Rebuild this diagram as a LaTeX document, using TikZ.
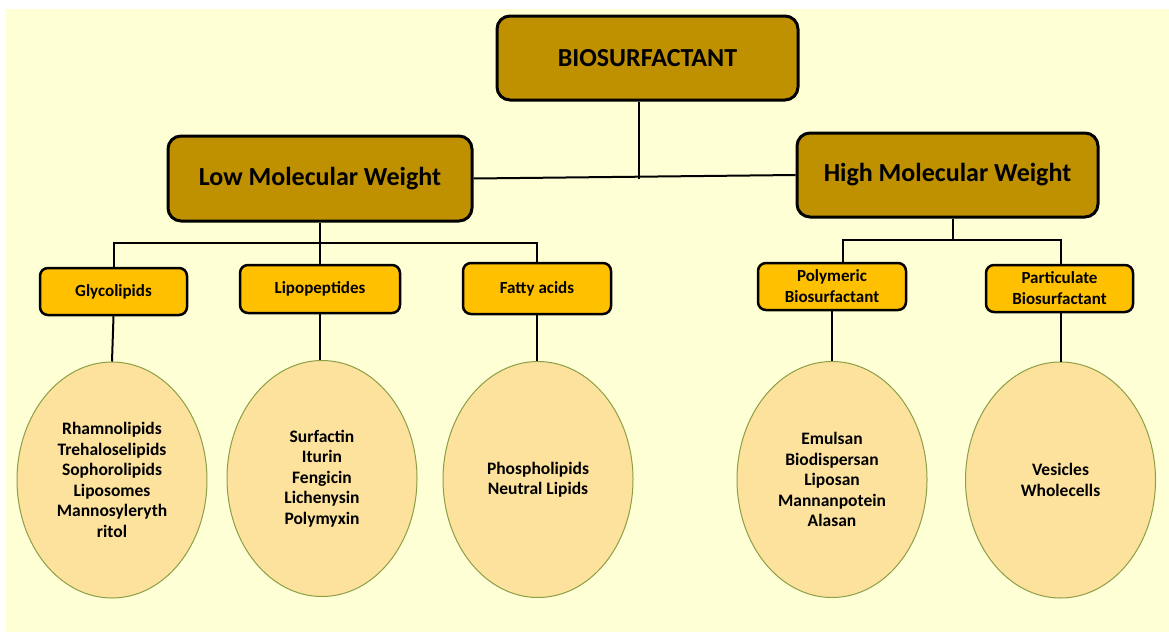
\documentclass[tikz,border=0pt]{standalone}
\usepackage{fontspec}
\setmainfont{Carlito}
\usetikzlibrary{shapes.geometric}
\definecolor{bgyel}{RGB}{255,255,214}
\definecolor{darkgold}{RGB}{191,144,0}
\definecolor{amber}{RGB}{255,192,0}
\definecolor{peach}{RGB}{252,226,156}
\definecolor{olive}{RGB}{140,158,70}
\begin{document}
\begin{tikzpicture}[x=1pt,y=-1pt,
  bigbox/.style={draw,line width=3,rounded corners=13,fill=darkgold,minimum width=301,minimum height=84,font=\fontsize{26}{31}\selectfont\bfseries},
  smallbox/.style={draw,line width=2.5,rounded corners=8,fill=amber,minimum width=147,minimum height=47,align=center,font=\fontsize{17}{21}\selectfont\bfseries},
  oval/.style={ellipse,draw=olive,line width=1,fill=peach,minimum width=190,minimum height=236,inner sep=0,align=center,font=\fontsize{17.5}{20.5}\selectfont\bfseries},
  conn/.style={line width=2}]
\useasboundingbox (0,0) rectangle (1169,632);
\fill[white] (0,0) rectangle (1169,632);
\fill[bgyel] (6,9) rectangle (1169,632);

\node[bigbox] (bio) at (647.5,58) {BIOSURFACTANT};
\node[bigbox,minimum width=304,minimum height=85] (low) at (320,178.5) {Low Molecular Weight};
\node[bigbox] (high) at (947.5,175) {High Molecular Weight};

\node[smallbox] (glyco) at (113.5,291.5) {Glycolipids};
\node[smallbox,minimum width=160,minimum height=48] (lipo) at (320,289) {Lipopeptides};
\node[smallbox,minimum width=148,minimum height=51] (fatty) at (537,288.5) {Fatty acids};
\node[smallbox,minimum width=148] (poly) at (832,286.5) {Polymeric\\Biosurfactant};
\node[smallbox] (part) at (1059.5,288.5) {Particulate\\Biosurfactant};

\node[oval] (e1) at (112,480) {Rhamnolipids\\Trehaloselipids\\Sophorolipids\\Liposomes\\Mannosyleryth\\ritol};
\node[oval] (e2) at (322,478.5) {Surfactin\\Iturin\\Fengicin\\Lichenysin\\Polymyxin};
\node[oval] (e3) at (538,479.5) {Phospholipids\\Neutral Lipids};
\node[oval] (e4) at (832,479.5) {Emulsan\\Biodispersan\\Liposan\\Mannanpotein\\Alasan};
\node[oval] (e5) at (1060.5,480) {Vesicles\\Wholecells};

\coordinate (lb) at (320,243);
\coordinate (hb) at (953,240);

\draw[conn] (low.east) -- (high.west);
\draw[conn] ([xshift=-9]bio.south) -- ([xshift=-9]bio.south |- low.east);
\draw[conn] (low.south) -- (lb) -- (lipo.north);
\draw[conn] (glyco.north) |- (lb) -| (fatty.north);
\draw[conn] ([xshift=5.5]high.south) -- (hb);
\draw[conn] ([xshift=11]poly.north) |- (hb) -| ([xshift=1.5]part.north);
\draw[conn] (glyco.south) -- (e1.north);
\draw[conn] (lipo.south) -- (lipo.south |- e2.north);
\draw[conn] (fatty.south) -- (fatty.south |- e3.north);
\draw[conn] (poly.south) -- (e4.north);
\draw[conn] ([xshift=1.5]part.south) -- ([xshift=1.5]part.south |- e5.north);

\end{tikzpicture}
\end{document}
